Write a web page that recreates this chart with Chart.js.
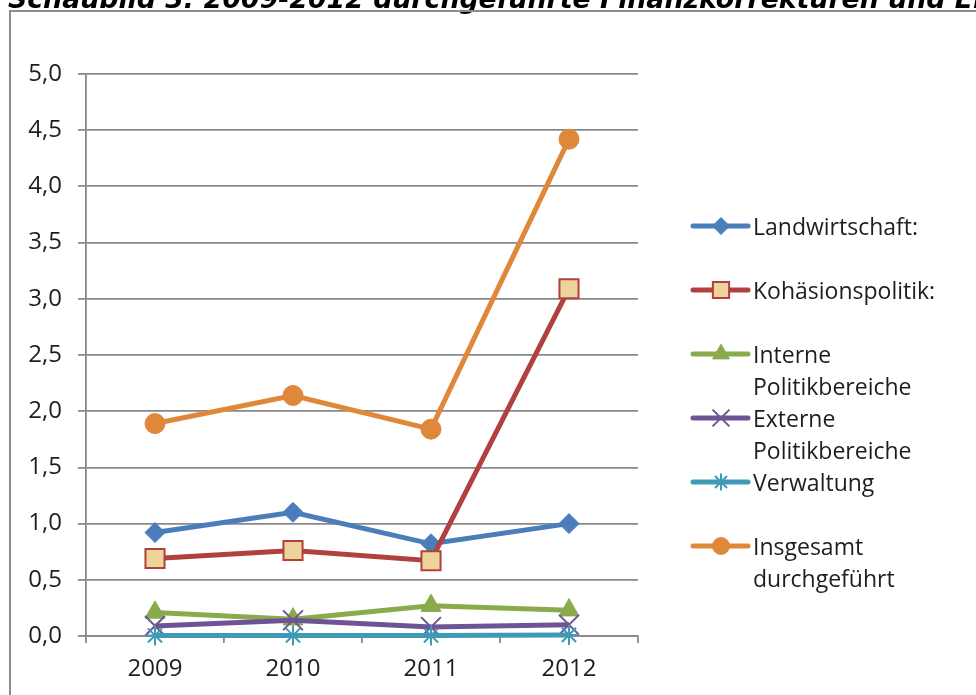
<!DOCTYPE html>
<html lang="de">
<head>
<meta charset="utf-8">
<title>Schaubild 3</title>
<script src="https://cdn.jsdelivr.net/npm/chart.js@4/dist/chart.umd.min.js"></script>
<style>
  html, body { margin: 0; padding: 0; background: #fff; overflow: hidden; }
  #wrap { position: relative; width: 976px; height: 695px; }
  canvas { position: absolute; left: 0; top: 0; }
</style>
</head>
<body>
<div id="wrap"><canvas id="chart" width="976" height="695"></canvas></div>
<script>
// Finanzkorrekturen 2009-2012 (Mrd. EUR)
const years = ['2009', '2010', '2011', '2012'];
const landwirtschaft = [0.92, 1.10, 0.82, 1.00];
const kohaesion = [0.69, 0.76, 0.67, 3.09];
const interne = [0.21, 0.15, 0.27, 0.23];
const externe = [0.09, 0.14, 0.08, 0.10];
const verwaltung = [0.005, 0.005, 0.005, 0.01];
const insgesamt = [1.89, 2.14, 1.84, 4.42];

const seriesNames = [
  ['Landwirtschaft:'],
  ['Kohäsionspolitik:'],
  ['Interne', 'Politikbereiche'],
  ['Externe', 'Politikbereiche'],
  ['Verwaltung'],
  ['Insgesamt', 'durchgeführt']
];
const yTicks = [0, 0.5, 1, 1.5, 2, 2.5, 3, 3.5, 4, 4.5, 5];
const titleText = 'Schaubild 3: 2009-2012 durchgeführte Finanzkorrekturen und Einziehungen';

const FONT = '"Open Sans", "Liberation Sans", sans-serif';
const TEXT = '#1e1e1e';
const GRID = '#888888';

const styles = [
  { color: '#4a7ebb', point: 'rectRot', radius: 10, fill: '#4a7ebb', bw: 1 },
  { color: '#b0413e', point: 'rect', radius: 13.5, fill: '#eed49a', bw: 2 },
  { color: '#8aab4c', point: 'triangle', radius: 11.5, fill: '#8aab4c', bw: 1 },
  { color: '#6e5494', point: 'crossRot', radius: 14, fill: '#6e5494', bw: 2 },
  { color: '#3e9ab5', point: 'star', radius: 10, fill: '#3e9ab5', bw: 2 },
  { color: '#e0883a', point: 'circle', radius: 10, fill: '#e0883a', bw: 1 }
];
const values = [landwirtschaft, kohaesion, interne, externe, verwaltung, insgesamt];

const datasets = values.map((v, i) => ({
  label: seriesNames[i].join(' '),
  data: v,
  borderColor: styles[i].color,
  backgroundColor: styles[i].fill,
  borderWidth: 5,
  pointStyle: styles[i].point,
  pointRadius: styles[i].radius,
  pointHoverRadius: styles[i].radius,
  pointBackgroundColor: styles[i].fill,
  pointBorderColor: styles[i].color,
  pointBorderWidth: styles[i].bw,
  tension: 0,
  clip: false,
  order: values.length - i
}));

// marker used in the legend rows
function marker(ctx, style, x, y, r) {
  ctx.save();
  ctx.fillStyle = style.fill;
  ctx.strokeStyle = style.color;
  ctx.lineWidth = style.bw;
  ctx.beginPath();
  switch (style.point) {
    case 'rectRot':
      ctx.moveTo(x - r, y); ctx.lineTo(x, y - r); ctx.lineTo(x + r, y); ctx.lineTo(x, y + r); ctx.closePath();
      ctx.fill(); ctx.stroke(); break;
    case 'rect': {
      const s = r * Math.SQRT1_2;
      ctx.rect(x - s, y - s, 2 * s, 2 * s); ctx.fill(); ctx.stroke(); break;
    }
    case 'triangle': {
      const a = -Math.PI / 2;
      for (let k = 0; k < 3; k++) {
        const t = a + k * 2 * Math.PI / 3;
        const px = x + Math.cos(t) * r, py = y + Math.sin(t) * r;
        if (k === 0) ctx.moveTo(px, py); else ctx.lineTo(px, py);
      }
      ctx.closePath(); ctx.fill(); ctx.stroke(); break;
    }
    case 'crossRot': {
      const o = r * Math.SQRT1_2;
      ctx.moveTo(x - o, y - o); ctx.lineTo(x + o, y + o);
      ctx.moveTo(x - o, y + o); ctx.lineTo(x + o, y - o); ctx.stroke(); break;
    }
    case 'star': {
      const o = r * Math.SQRT1_2;
      ctx.moveTo(x - r, y); ctx.lineTo(x + r, y);
      ctx.moveTo(x, y - r); ctx.lineTo(x, y + r);
      ctx.moveTo(x - o, y - o); ctx.lineTo(x + o, y + o);
      ctx.moveTo(x - o, y + o); ctx.lineTo(x + o, y - o); ctx.stroke(); break;
    }
    default:
      ctx.arc(x, y, r, 0, Math.PI * 2); ctx.fill(); ctx.stroke();
  }
  ctx.restore();
}

const frameAndTitle = {
  id: 'frameAndTitle',
  beforeDraw(chart) {
    const ctx = chart.ctx;
    ctx.save();
    // heading above the frame, sized so "… und " spans 947px
    const fam = '"DejaVu Sans", Verdana, sans-serif';
    ctx.font = 'italic bold 20px ' + fam;
    const prefix = titleText.slice(0, titleText.indexOf('und ') + 4);
    const size = 20 * 947 / ctx.measureText(prefix).width;
    ctx.font = 'italic bold ' + size.toFixed(2) + 'px ' + fam;
    ctx.fillStyle = '#000';
    ctx.textBaseline = 'alphabetic';
    ctx.textAlign = 'left';
    ctx.fillText(titleText, 8, 8);
    // chart frame
    ctx.strokeStyle = '#8c8c8c';
    ctx.lineWidth = 2;
    ctx.strokeRect(10, 11, 1200, 1200);
    ctx.restore();
  }
};

const sideLegend = {
  id: 'sideLegend',
  afterDraw(chart) {
    const ctx = chart.ctx;
    const x0 = 693, x1 = 748, mx = 721, tx = 753;
    const top = 226, step = 64, lineH = 32;
    ctx.save();
    ctx.font = '23px ' + FONT;
    ctx.fillStyle = TEXT;
    ctx.textBaseline = 'middle';
    ctx.textAlign = 'left';
    seriesNames.forEach((lines, i) => {
      const y = top + i * step;
      const st = styles[i];
      ctx.strokeStyle = st.color;
      ctx.lineWidth = 5;
      ctx.lineCap = 'round';
      ctx.beginPath(); ctx.moveTo(x0, y); ctx.lineTo(x1, y); ctx.stroke();
      ctx.lineCap = 'butt';
      marker(ctx, st, mx, y, st.radius * 0.85);
      ctx.fillStyle = TEXT;
      lines.forEach((t, k) => ctx.fillText(t, tx, y + 2 + k * lineH));
    });
    ctx.restore();
  }
};

new Chart(document.getElementById('chart'), {
  type: 'line',
  data: { labels: years, datasets },
  options: {
    responsive: false,
    animation: false,
    events: [],
    layout: { padding: { left: 0, top: 74, right: 338, bottom: 0 } },
    plugins: { legend: { display: false }, tooltip: { enabled: false }, title: { display: false } },
    scales: {
      x: {
        offset: true,
        grid: { display: true, offset: true, drawOnChartArea: false, drawTicks: true, tickLength: 7, color: GRID, lineWidth: 1.8 },
        border: { display: true, color: GRID, width: 1.8 },
        ticks: { color: TEXT, font: { family: FONT, size: 24 }, padding: 12 },
        afterFit(s) { s.height = 59; }
      },
      y: {
        min: 0, max: 5,
        afterBuildTicks(s) { s.ticks = yTicks.map(v => ({ value: v })); },
        grid: { color: GRID, lineWidth: 1.8, tickLength: 8 },
        border: { display: true, color: GRID, width: 1.8 },
        ticks: {
          color: TEXT, font: { family: FONT, size: 24 }, padding: 16,
          callback: v => Number(v).toFixed(1).replace('.', ',')
        },
        afterFit(s) { s.width = 86; }
      }
    }
  },
  plugins: [frameAndTitle, sideLegend]
});
</script>
</body>
</html>
